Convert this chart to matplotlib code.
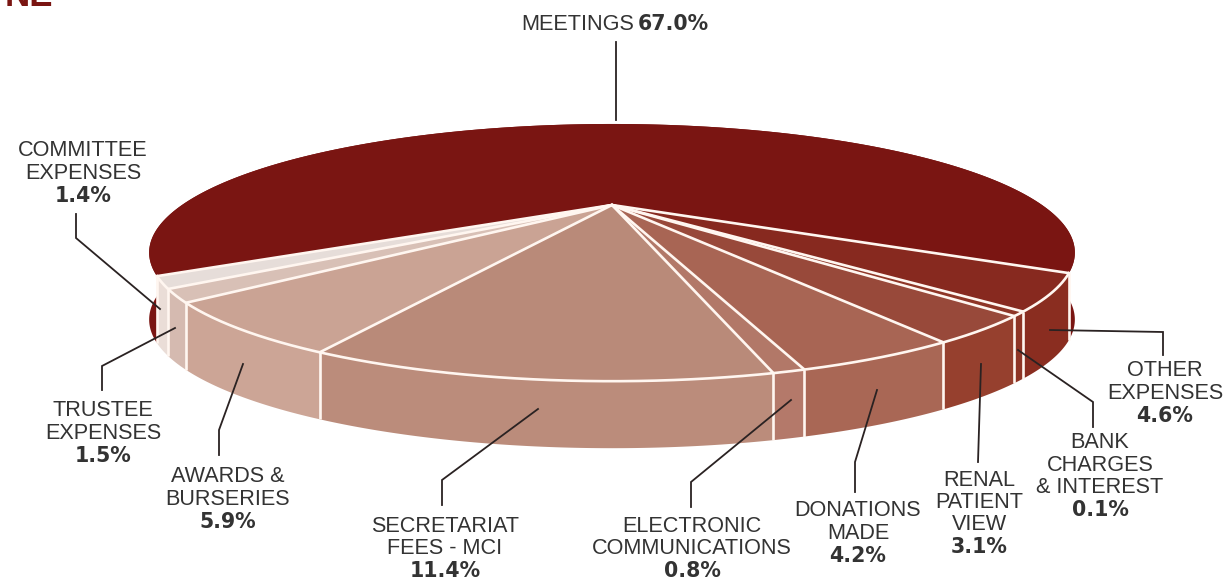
# 3D style pie chart of expenses
import numpy as np
from matplotlib import pyplot as plt

plt.rcParams['font.family'] = ['Liberation Sans', 'DejaVu Sans']

# Slices clockwise, starting at the right hand edge of the front part
names = ['OTHER\nEXPENSES', 'BANK\nCHARGES\n& INTEREST', 'RENAL\nPATIENT\nVIEW', 'DONATIONS\nMADE',
         'ELECTRONIC\nCOMMUNICATIONS', 'SECRETARIAT\nFEES - MCI', 'AWARDS &\nBURSERIES',
         'TRUSTEE\nEXPENSES', 'COMMITTEE\nEXPENSES', 'MEETINGS']
values = [4.6, 0.1, 3.1, 4.2, 0.8, 11.4, 5.9, 1.5, 1.4, 67.0]
drawn = [4.2, 0.5, 3.1, 4.2, 0.8, 11.4, 5.9, 1.5, 1.4, 67.0]
top_colors = ['#87291F', '#8E3526', '#98493A', '#A86554', '#B27868', '#B98A79', '#CAA394', '#D8C0B6', '#E6DDD9', '#7A1512']
wall_colors = ['#8A2D20', '#8E3526', '#96402E', '#A96755', '#B4796A', '#BB8C7B', '#CCA596', '#D5BAB0', '#EADDD7', '#7A1512']

# Pie geometry in pixels, perspective seen from above
cx, cy = 612, 205
rx, ry = 430, 111
persp = 0.37
depth = 67
start = 30
edge = '#FFF6F0'
ink = '#333333'

# label centre x, y of first line
label_pos = [(1165, 371), (1100, 443), (979, 480), (858, 511), (692, 526), (445, 526), (228, 477), (103, 411), (83, 151)]
leaders = [
    [(1163, 355), (1163, 332), (1050, 330)],
    [(1093, 427), (1093, 402), (1018, 350)],
    [(978, 462), (981, 364)],
    [(855, 492), (855, 462), (877, 390)],
    [(691, 507), (691, 482), (791, 400)],
    [(442, 505), (442, 480), (538, 409)],
    [(219, 455), (219, 430), (243, 364)],
    [(102, 390), (102, 366), (175, 328)],
    [(76, 214), (76, 238), (160, 309)],
    [(616, 42), (616, 120)],
]


def project(deg):
    a = np.radians(deg)
    w = 1 - persp * np.sin(a)
    return cx + rx * np.cos(a) / w, cy + ry * np.sin(a) / w


fig = plt.figure(figsize=(12.23, 5.81), dpi=100)
ax = fig.add_axes([0, 0, 1, 1])
ax.set_xlim(0, 1223)
ax.set_ylim(581, 0)
ax.axis('off')

bounds = start + np.concatenate([[0], np.cumsum(drawn)]) / np.sum(drawn) * 360

# Walls first, back slice at the bottom of the stack, top faces cover the rest
for i in [len(drawn) - 1] + list(range(len(drawn) - 1)):
    angles = np.linspace(bounds[i], bounds[i + 1], 400)
    x, y = project(angles)
    ax.fill(np.r_[x, x[::-1]], np.r_[y, y[::-1] + depth], color=wall_colors[i], lw=0, zorder=1)

# Wall separators, only on the front part
for b in bounds[:-1]:
    x, y = project(b)
    ax.plot([x, x], [y, y + depth], color=edge, lw=1.9, zorder=2, solid_capstyle='butt')

# Top faces
for i in range(len(drawn)):
    angles = np.linspace(bounds[i], bounds[i + 1], 400)
    x, y = project(angles)
    ax.fill(np.r_[cx, x], np.r_[cy, y], color=top_colors[i], lw=0, zorder=3)

# Spokes and the front rim
for b in bounds[:-1]:
    x, y = project(b)
    ax.plot([cx, x], [cy, y], color=edge, lw=1.9, zorder=4, solid_capstyle='round')
x, y = project(np.linspace(bounds[0], bounds[-2], 400))
ax.plot(x, y, color=edge, lw=1.9, zorder=4)

# Leader lines
for pts in leaders:
    pts = np.array(pts)
    ax.plot(pts[:, 0], pts[:, 1], color='#2A2222', lw=1.3, zorder=5, solid_joinstyle='miter')

# Labels, the percentages are in a wider heavy face
fs = 15.6
pct_fs = 14.8
line = 22.3
for i in range(len(label_pos)):
    lx, ly = label_pos[i]
    rows = names[i].split('\n')
    for j in range(len(rows)):
        ax.text(lx, ly + j * line, rows[j], ha='center', va='center', fontsize=fs, color=ink, zorder=6)
    ax.text(lx, ly + len(rows) * line, '%.1f%%' % values[i], ha='center', va='center', fontsize=pct_fs,
            family='DejaVu Sans', fontweight='bold', color=ink, zorder=6)

ax.text(634, 24, names[-1], ha='right', va='center', fontsize=fs, color=ink, zorder=6)
ax.text(638, 24, '%.1f%%' % values[-1], ha='left', va='center', fontsize=pct_fs, family='DejaVu Sans',
        fontweight='bold', color=ink, zorder=6)

# Heading cut off by the top of the picture
ax.text(53, 6, 'NE', ha='right', va='baseline', fontsize=25, fontweight='bold', color='#7A1512', clip_on=True)

fig.savefig('out.png', dpi=100)
